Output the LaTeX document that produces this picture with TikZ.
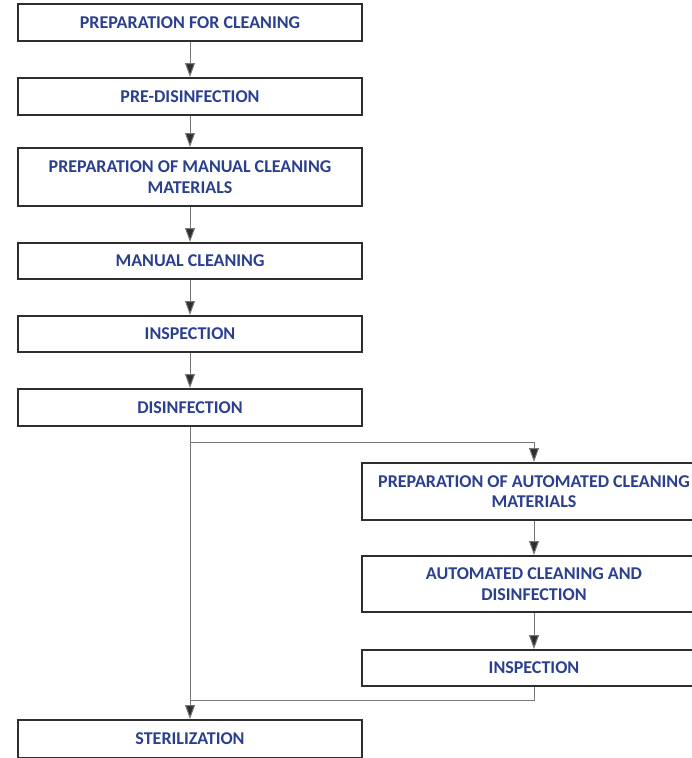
\documentclass[tikz,border=0pt]{standalone}
\usepackage{fontspec}
\setmainfont{Carlito}
\usetikzlibrary{arrows.meta}

\definecolor{boxblue}{HTML}{2B3F8F}
\definecolor{boxline}{HTML}{2E2E2E}
\definecolor{linkgray}{HTML}{777777}

\begin{document}
\begin{tikzpicture}[x=1pt, y=-1pt,
        stepbox/.style={draw=boxline, line width=2pt, fill=white, minimum width=344pt,
            align=center, text=boxblue, font=\bfseries\fontsize{18}{20.5}\selectfont},
        link/.style={draw=linkgray, line width=1pt},
        arrowlink/.style={link, -{Triangle[width=10pt, length=14pt, fill=boxline]}}]
        \useasboundingbox (0,0) rectangle (692,758);
        \clip (0,0) rectangle (692,758);

        % left column
        \node[stepbox, minimum height=37pt] (prep) at (190, 22.5) {PREPARATION FOR CLEANING};
        \node[stepbox, minimum height=37pt] (predis) at (190, 96.5) {PRE-DISINFECTION};
        \node[stepbox, minimum height=58pt] (prepman) at (190, 177) {PREPARATION OF MANUAL CLEANING\\MATERIALS};
        \node[stepbox, minimum height=36pt] (mancl) at (190, 261) {MANUAL CLEANING};
        \node[stepbox, minimum height=36pt] (insp) at (190, 334) {INSPECTION};
        \node[stepbox, minimum height=37pt] (disinf) at (190, 407.5) {DISINFECTION};
        \node[stepbox, minimum height=38pt] (steril) at (190, 739) {STERILIZATION};

        % right column
        \node[stepbox, minimum height=57pt] (prepauto) at (534, 491.5) {PREPARATION OF AUTOMATED CLEANING\\MATERIALS};
        \node[stepbox, minimum height=56pt] (autocl) at (534, 584) {AUTOMATED CLEANING AND\\DISINFECTION};
        \node[stepbox, minimum height=36pt] (inspauto) at (534, 668) {INSPECTION};

        \coordinate (split) at (190, 442);
        \coordinate (merge) at (190, 700);

        \draw[arrowlink] (prep.south) -- (predis.north);
        \draw[arrowlink] (predis.south) -- (prepman.north);
        \draw[arrowlink] (prepman.south) -- (mancl.north);
        \draw[arrowlink] (mancl.south) -- (insp.north);
        \draw[arrowlink] (insp.south) -- (disinf.north);
        \draw[arrowlink] (disinf.south) -- (steril.north);

        \draw[arrowlink] (split) -| (prepauto.north);
        \draw[arrowlink] (prepauto.south) -- (autocl.north);
        \draw[arrowlink] (autocl.south) -- (inspauto.north);
        \draw[link] (inspauto.south) |- (merge);
\end{tikzpicture}
\end{document}
